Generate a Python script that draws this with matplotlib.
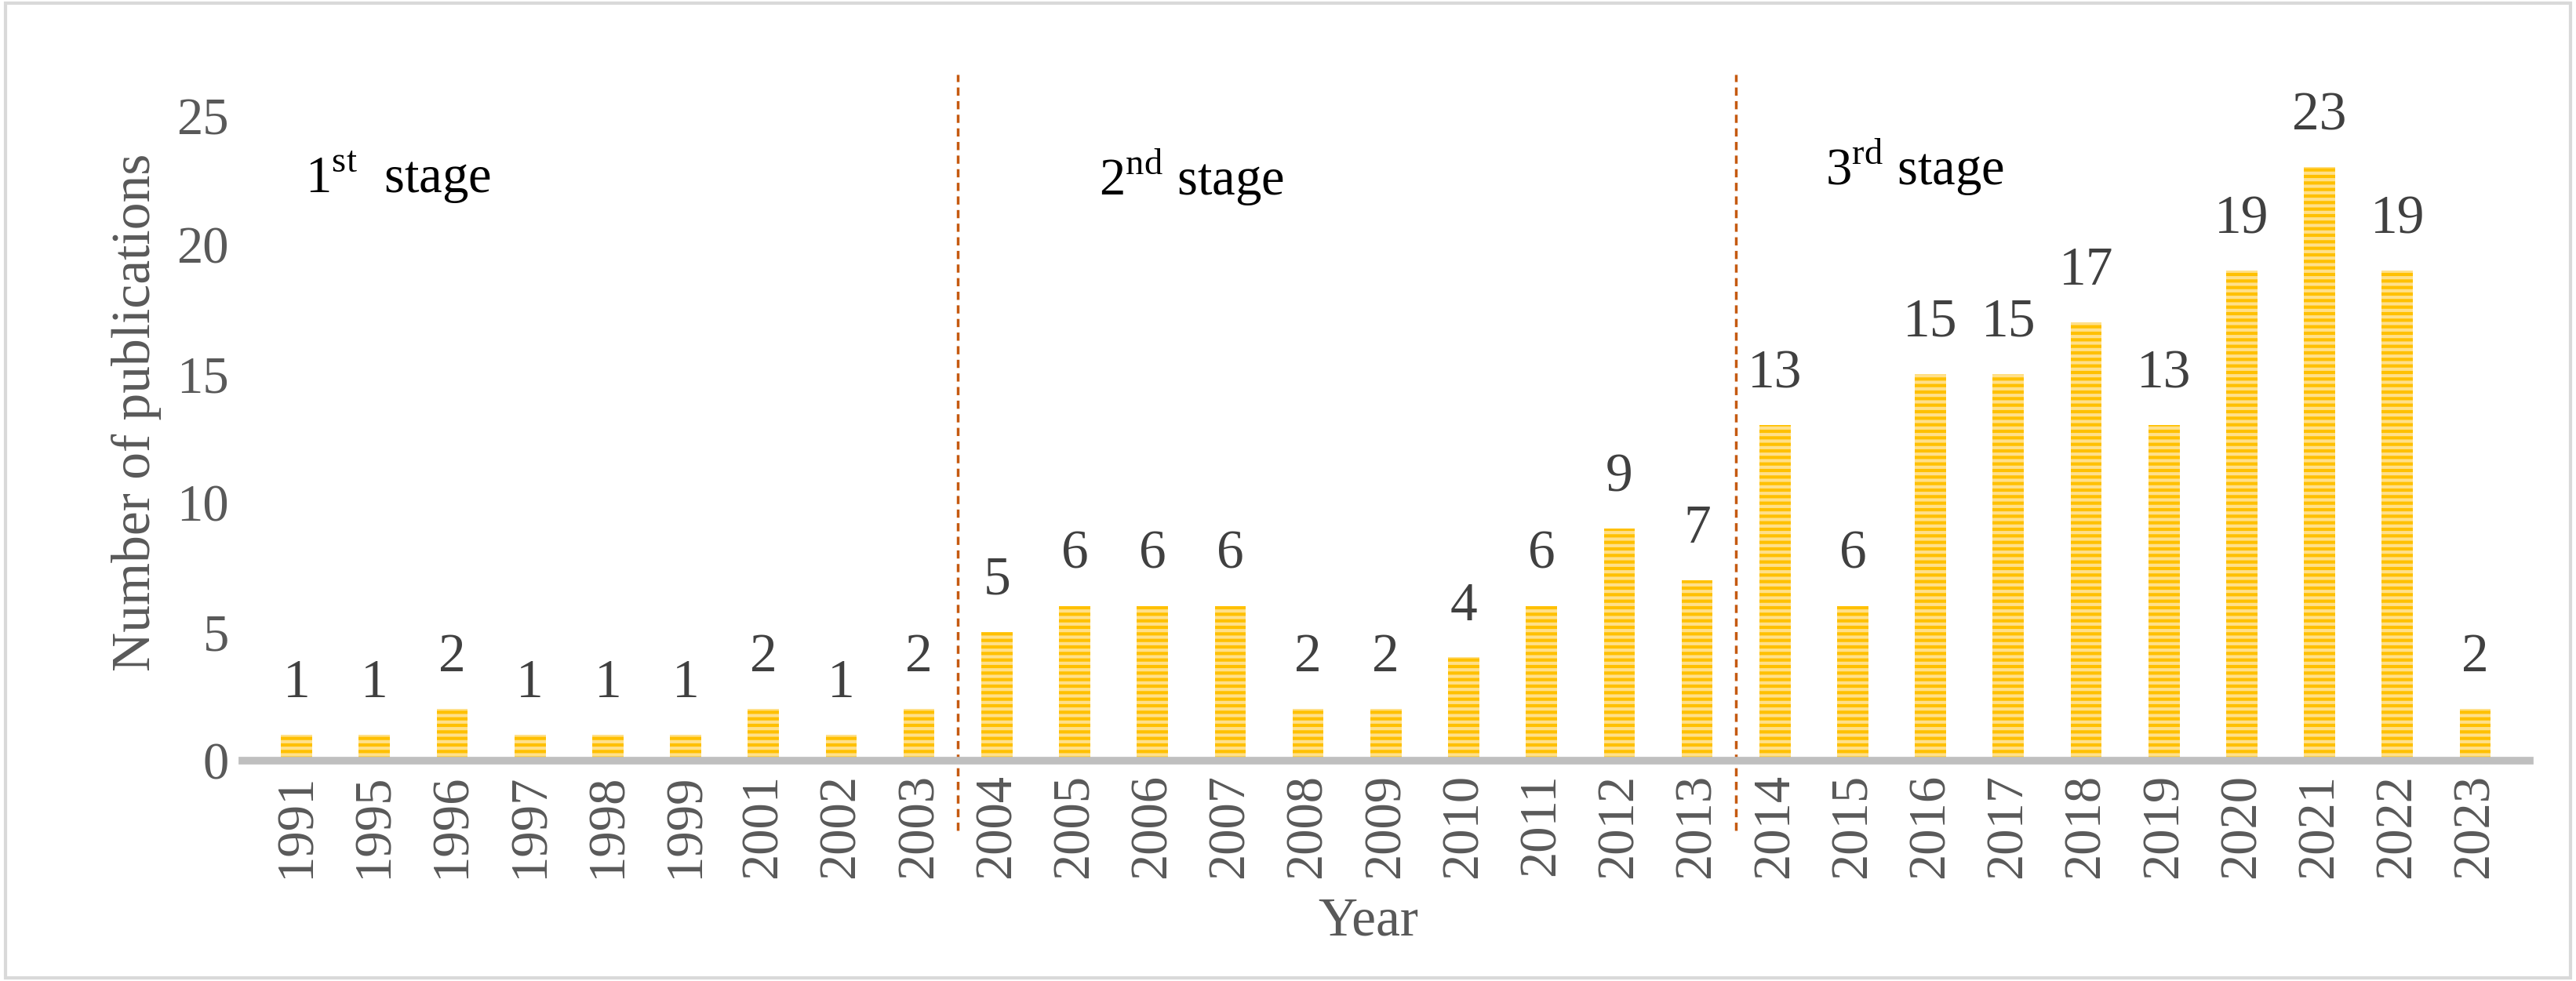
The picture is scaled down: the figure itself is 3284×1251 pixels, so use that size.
import matplotlib.pyplot as plt
from matplotlib.patches import Rectangle

plt.rcParams['font.family'] = ['Liberation Serif', 'DejaVu Serif']
plt.rcParams['mathtext.fontset'] = 'custom'
plt.rcParams['mathtext.rm'] = 'Liberation Serif'
plt.rcParams['hatch.linewidth'] = 3

years = ['1991', '1995', '1996', '1997', '1998', '1999', '2001', '2002', '2003',
         '2004', '2005', '2006', '2007', '2008', '2009', '2010', '2011', '2012',
         '2013', '2014', '2015', '2016', '2017', '2018', '2019', '2020', '2021',
         '2022', '2023']
counts = [1, 1, 2, 1, 1, 1, 2, 1, 2, 5, 6, 6, 6, 2, 2, 4, 6, 9, 7, 13, 6, 15,
          15, 17, 13, 19, 23, 19, 2]
stage_breaks = [8.5, 18.5]

fig = plt.figure(figsize=(32.84, 12.51), dpi=100)
ax = fig.add_axes([0.094, 0.2246, 0.888, 0.71])
fig.patches.append(Rectangle((0.002, 0.003), 0.996, 0.994, transform=fig.transFigure,
                             fill=False, edgecolor='#D9D9D9', linewidth=3))

x = range(len(years))
ax.bar(x, counts, width=0.4, color='#FFC000', edgecolor='#FFE08A',
       hatch='--', linewidth=0)
for xi, c in zip(x, counts):
    ax.text(xi, c + 1.0, str(c), ha='center', va='bottom', fontsize=50, color='#404040')

for b in stage_breaks:
    ax.plot([b, b], [-2.7, 26.6], linestyle=(0, (3, 2)), color='#C55A11',
            linewidth=2.5, clip_on=False)

ax.text(1.3, 22.6, '1$^{\\mathrm{st}}$  stage', fontsize=48, ha='center', va='center')
ax.text(11.5, 22.6, '2$^{\\mathrm{nd}}$ stage', fontsize=48, ha='center', va='center')
ax.text(20.8, 23.0, '3$^{\\mathrm{rd}}$ stage', fontsize=48, ha='center', va='center')

ax.set_xlim(-0.7, len(years) - 0.3)
ax.set_ylim(0, 27)
ax.set_yticks([0, 5, 10, 15, 20, 25])
ax.set_xticks(list(x))
ax.set_xticklabels(years, rotation=90)
ax.tick_params(axis='both', length=0, labelsize=48, labelcolor='#595959', pad=12)
for s in ['top', 'right', 'left']:
    ax.spines[s].set_visible(False)
ax.spines['bottom'].set_color('#BFBFBF')
ax.spines['bottom'].set_linewidth(7)
ax.set_ylabel('Number of publications', fontsize=50, color='#595959', labelpad=14)
fig.text(0.531, 0.06, 'Year', fontsize=50, color='#595959', ha='center', va='center')

fig.savefig('out.png', dpi=100)
